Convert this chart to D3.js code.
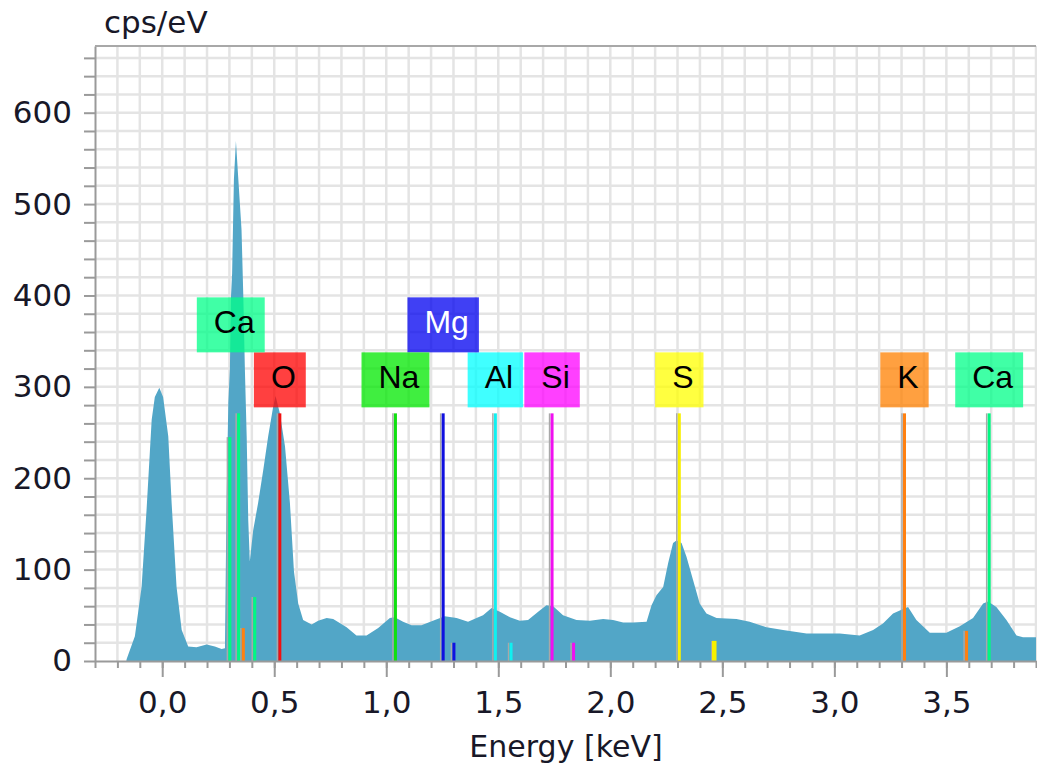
<!DOCTYPE html>
<html>
<head>
<meta charset="utf-8">
<script src="https://cdn.jsdelivr.net/npm/d3@7"></script>
<style>
  body { margin: 0; background: #fff; }
  svg { display: block; }
</style>
</head>
<body>
<svg id="chart" width="1037" height="769"></svg>
<script>
// spectrum (keV, cps/eV)
const energy = [
  -0.30, -0.16, -0.159, -0.122, -0.092, -0.070, -0.047, -0.033, -0.013, 0.004,
  0.027, 0.042, 0.064, 0.087, 0.116, 0.153, 0.198, 0.235, 0.265, 0.280,
  0.287, 0.295, 0.302, 0.307, 0.312, 0.320, 0.329, 0.339, 0.354, 0.362,
  0.369, 0.377, 0.384, 0.391, 0.406, 0.428, 0.451, 0.473, 0.495, 0.506,
  0.525, 0.548, 0.570, 0.588, 0.607, 0.629, 0.667, 0.696, 0.734, 0.763,
  0.823, 0.867, 0.912, 0.964, 1.016, 1.038, 1.075, 1.113, 1.157, 1.217,
  1.261, 1.314, 1.365, 1.403, 1.432, 1.470, 1.507, 1.552, 1.596, 1.633,
  1.678, 1.715, 1.745, 1.789, 1.849, 1.909, 1.968, 2.012, 2.057, 2.102,
  2.162, 2.184, 2.206, 2.236, 2.258, 2.280, 2.295, 2.318, 2.340, 2.369,
  2.399, 2.429, 2.474, 2.563, 2.622, 2.697, 2.771, 2.876, 3.024, 3.113,
  3.173, 3.217, 3.262, 3.307, 3.329, 3.366, 3.426, 3.500, 3.560, 3.619,
  3.664, 3.686, 3.723, 3.768, 3.813, 3.842, 3.900
];
const counts = [
  0, 0, 2, 27, 81, 165, 264, 289, 299, 289,
  246, 173, 81, 34, 16, 15, 18, 16, 13, 14,
  173, 282, 319, 399, 424, 527, 569, 530, 472, 399,
  319, 246, 154, 109, 143, 173, 209, 246, 278, 290,
  271, 235, 173, 98, 63, 45, 40, 44, 47, 46,
  37, 28, 28, 36, 47, 48, 43, 39, 39, 45,
  49, 47, 43, 47, 50, 58, 54, 48, 44, 45,
  54, 61, 60, 50, 45, 44, 46, 45, 42, 42,
  43, 61, 72, 81, 107, 129, 132, 129, 114, 89,
  63, 52, 47, 46, 43, 37, 34, 30, 30, 28,
  34, 41, 52, 57, 59, 45, 31, 31, 38, 47,
  63, 65, 59, 45, 28, 26, 26
];

// element markers
const labelNames = ["Ca", "O", "Na", "Mg", "Al", "Si", "S", "K", "Ca"];
const labelKeV = [0.306, 0.525, 1.041, 1.254, 1.487, 1.740, 2.308, 3.313, 3.691];

const lineKeV = [0.302, 0.341, 0.362, 0.413, 0.525, 1.041, 1.254, 1.302, 1.487, 1.557,
  1.740, 1.836, 2.308, 2.464, 3.313, 3.590, 3.691];
const lineHeight = [245, 271, 36, 70, 271, 271, 271, 20, 271, 20,
  271, 20, 271, 22, 271, 33, 271];
const lineElement = ["Ca", "Ca", "K", "Ca", "O", "Na", "Mg", "Mg", "Al", "Al",
  "Si", "Si", "S", "S", "K", "K", "Ca"];

const xTicksMajor = [0, 0.5, 1.0, 1.5, 2.0, 2.5, 3.0, 3.5];
const yTickLabels = [0, 100, 200, 300, 400, 500, 600];

const lineColor = { Ca: "#00f882", O: "#f01010", Na: "#10e010", Mg: "#1010e0",
  Al: "#10f0f0", Si: "#f010f0", S: "#f8f000", K: "#ff8010" };
const boxColor = { Ca: "#00ff88", O: "#ff0000", Na: "#00e800", Mg: "#0000f0",
  Al: "#00ffff", Si: "#ff00ff", S: "#ffff00", K: "#ff8000" };

const svg = d3.select("#chart");
const x = d3.scaleLinear().domain([-0.3, 3.9]).range([95, 1036]);
const y = d3.scaleLinear().domain([0, 673]).range([661, 46]);
const axisGray = "#9a9a9a";
const font = "'DejaVu Sans', Verdana, sans-serif";
const ink = "#181828";

// grid
const grid = svg.append("g").attr("stroke", "#e4e4e4").attr("stroke-width", 2.5);
grid.selectAll(".v")
  .data(d3.range(-2, 40).map((i) => i / 10))
  .join("line")
  .attr("x1", (d) => x(d)).attr("x2", (d) => x(d))
  .attr("y1", y(673)).attr("y2", y(0));
grid.selectAll(".h")
  .data(d3.range(20, 673, 20))
  .join("line")
  .attr("x1", x(-0.3)).attr("x2", x(3.9))
  .attr("y1", (d) => y(d)).attr("y2", (d) => y(d));

// spectrum
svg.append("clipPath").attr("id", "plot")
  .append("rect")
  .attr("x", x(-0.3)).attr("y", y(673))
  .attr("width", x(3.9) - x(-0.3)).attr("height", y(0) - y(673));

const spectrum = energy.map((e, i) => [e, counts[i]]);
svg.append("path")
  .datum(spectrum)
  .attr("clip-path", "url(#plot)")
  .attr("fill", "#52a6c7")
  .attr("d", d3.area().x((d) => x(d[0])).y0(y(0)).y1((d) => y(d[1])));

// element lines
const lines = lineKeV.map((e, i) => ({ e, h: lineHeight[i], el: lineElement[i] }));
svg.append("g").selectAll("line")
  .data(lines)
  .join("line")
  .attr("x1", (d) => x(d.e) - 2.5).attr("x2", (d) => x(d.e) - 2.5)
  .attr("y1", (d) => y(d.h)).attr("y2", y(0))
  .attr("stroke", "#a8a8a8").attr("stroke-width", 1.5);
svg.append("g").selectAll("line")
  .data(lines)
  .join("line")
  .attr("x1", (d) => x(d.e)).attr("x2", (d) => x(d.e))
  .attr("y1", (d) => y(d.h)).attr("y2", y(0))
  .attr("stroke", (d) => lineColor[d.el])
  .attr("stroke-width", (d) => (d.el === "S" && d.h < 100 ? 4.5 : 3));

// axes
const yAxis = svg.append("g")
  .attr("transform", `translate(${x(-0.3)},0)`)
  .call(d3.axisLeft(y)
    .tickValues(d3.range(0, 661, 20))
    .tickSize(11).tickSizeOuter(0).tickPadding(12)
    .tickFormat((d) => (yTickLabels.includes(d) ? d : "")));

const xMinor = svg.append("g")
  .attr("transform", `translate(0,${y(0)})`)
  .call(d3.axisBottom(x)
    .tickValues(d3.range(-3, 40).map((i) => i / 10))
    .tickSize(7).tickSizeOuter(0).tickFormat(""));

const xAxis = svg.append("g")
  .attr("transform", `translate(0,${y(0)})`)
  .call(d3.axisBottom(x)
    .tickValues(xTicksMajor)
    .tickSize(16).tickSizeOuter(0).tickPadding(14)
    .tickFormat((d) => d3.format(".1f")(d).replace(".", ",")));
xAxis.select(".domain").remove();

[yAxis, xMinor, xAxis].forEach((g) => {
  g.selectAll("path, line").attr("stroke", axisGray).attr("stroke-width", 2);
  g.selectAll("text").attr("font-family", font).attr("font-size", 31).attr("fill", ink);
});

// top border
svg.append("line")
  .attr("x1", x(-0.3)).attr("x2", x(3.9))
  .attr("y1", y(673)).attr("y2", y(673))
  .attr("stroke", "#a8a8a8").attr("stroke-width", 2);

// axis titles
svg.append("text")
  .attr("x", 104).attr("y", 33)
  .attr("font-family", font).attr("font-size", 31).attr("fill", ink)
  .text("cps/eV");
svg.append("text")
  .attr("x", 566).attr("y", 757)
  .attr("text-anchor", "middle")
  .attr("font-family", font).attr("font-size", 30).attr("fill", ink)
  .text("Energy [keV]");

// element labels: right to left, lift a box one row when it would overlap
const boxH = 55;
const lowTop = y(271) - 6 - boxH;
const labelG = svg.append("g");
const placed = [[], []];
const labels = labelNames.map((name, i) => ({ name, e: labelKeV[i] }))
  .sort((a, b) => b.e - a.e);

labels.forEach((d) => {
  const g = labelG.append("g");
  const rect = g.append("rect");
  const t = g.append("text")
    .attr("font-family", "'Liberation Sans', Arial, sans-serif")
    .attr("font-size", 32)
    .attr("fill", d.name === "Mg" ? "#fff" : "#000")
    .text(d.name);
  const tw = t.node().getComputedTextLength();
  const bw = tw + 27;
  const left = x(d.e) - bw / 2;
  const right = left + bw;
  let row = 0;
  if (placed[0].some(([l, r]) => left < r && right > l)) row = 1;
  placed[row].push([left, right]);
  const top = lowTop - row * boxH;
  rect.attr("x", left).attr("y", top)
    .attr("width", bw).attr("height", boxH)
    .attr("fill", boxColor[d.name]).attr("fill-opacity", 0.75);
  t.attr("x", left + 17).attr("y", top + 36);
});
</script>
</body>
</html>
